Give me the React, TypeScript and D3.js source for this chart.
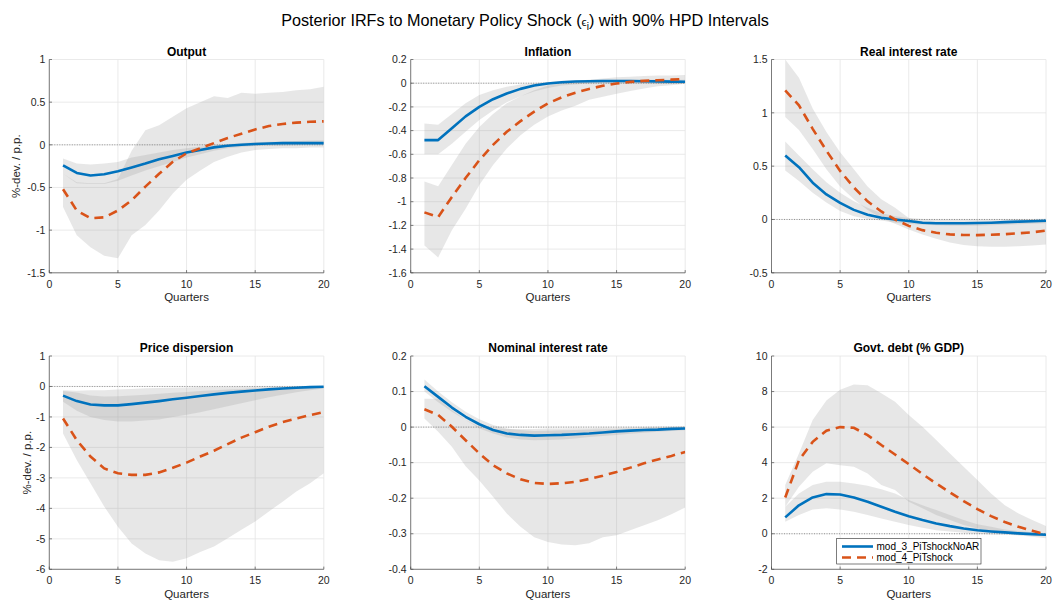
import React from "react";
import * as d3 from "d3";

// ---------- data ----------
const quarters = [1, 2, 3, 4, 5, 6, 7, 8, 9, 10, 11, 12, 13, 14, 15, 16, 17, 18, 19, 20];
const xTicks = [0, 5, 10, 15, 20];
const seriesNames = ["mod_3_PiTshockNoAR", "mod_4_PiTshock"];

// Output
const outM3 = [-0.24, -0.33, -0.36, -0.345, -0.31, -0.265, -0.22, -0.17, -0.13, -0.09, -0.06, -0.03, -0.01, 0.0, 0.01, 0.015, 0.02, 0.02, 0.02, 0.02];
const outM3Hi = [-0.16, -0.22, -0.23, -0.22, -0.2, -0.15, -0.12, -0.09, -0.06, -0.04, -0.02, -0.005, 0.01, 0.02, 0.03, 0.035, 0.04, 0.045, 0.05, 0.055];
const outM3Lo = [-0.34, -0.45, -0.46, -0.46, -0.42, -0.36, -0.3, -0.25, -0.2, -0.15, -0.11, -0.07, -0.04, -0.025, -0.015, -0.01, -0.01, -0.005, 0.0, 0.0];
const outM4 = [-0.52, -0.77, -0.86, -0.85, -0.77, -0.65, -0.49, -0.34, -0.2, -0.1, -0.04, 0.02, 0.08, 0.13, 0.18, 0.22, 0.245, 0.26, 0.27, 0.275];
const outM4Hi = [-0.34, -0.44, -0.45, -0.45, -0.4, -0.07, 0.17, 0.23, 0.33, 0.43, 0.5, 0.57, 0.55, 0.61, 0.6, 0.61, 0.62, 0.64, 0.65, 0.68];
const outM4Lo = [-0.73, -1.06, -1.2, -1.3, -1.33, -1.06, -0.94, -0.77, -0.57, -0.41, -0.3, -0.2, -0.14, -0.09, -0.06, -0.05, -0.04, -0.04, -0.03, -0.03];
const outTicks = [-1.5, -1, -0.5, 0, 0.5, 1];

// Inflation
const infM3 = [-0.48, -0.48, -0.38, -0.28, -0.2, -0.135, -0.087, -0.048, -0.02, -0.003, 0.008, 0.014, 0.017, 0.018, 0.018, 0.018, 0.016, 0.015, 0.013, 0.012];
const infM3Hi = [-0.34, -0.35, -0.26, -0.17, -0.1, -0.06, -0.03, -0.01, 0.0, 0.01, 0.02, 0.025, 0.028, 0.03, 0.03, 0.03, 0.03, 0.03, 0.03, 0.03];
const infM3Lo = [-0.6, -0.6, -0.51, -0.41, -0.31, -0.23, -0.16, -0.11, -0.07, -0.04, -0.02, -0.01, 0.0, 0.0, 0.0, 0.0, 0.0, -0.005, -0.005, -0.005];
const infM4 = [-1.09, -1.13, -0.96, -0.8, -0.65, -0.52, -0.41, -0.32, -0.24, -0.17, -0.12, -0.08, -0.048, -0.022, -0.003, 0.011, 0.02, 0.025, 0.03, 0.035];
const infM4Hi = [-0.83, -0.87, -0.69, -0.51, -0.37, -0.26, -0.17, -0.11, -0.06, -0.02, 0.0, 0.02, 0.03, 0.04, 0.05, 0.055, 0.06, 0.065, 0.065, 0.07];
const infM4Lo = [-1.37, -1.47, -1.24, -1.06, -0.86, -0.69, -0.55, -0.44, -0.35, -0.28, -0.23, -0.19, -0.14, -0.115, -0.09, -0.065, -0.045, -0.025, -0.017, -0.005];
const infTicks = [-1.6, -1.4, -1.2, -1, -0.8, -0.6, -0.4, -0.2, 0, 0.2];

// Real interest rate
const rrM3 = [0.6, 0.49, 0.345, 0.235, 0.155, 0.09, 0.045, 0.016, 0.0, -0.015, -0.03, -0.035, -0.035, -0.035, -0.033, -0.03, -0.025, -0.02, -0.017, -0.012];
const rrM3Hi = [0.73, 0.6, 0.47, 0.35, 0.25, 0.17, 0.11, 0.06, 0.03, 0.015, 0.005, 0.0, 0.0, 0.0, 0.0, 0.0, 0.002, 0.004, 0.005, 0.006];
const rrM3Lo = [0.46, 0.36, 0.25, 0.16, 0.08, 0.03, 0.005, -0.01, -0.03, -0.04, -0.05, -0.055, -0.06, -0.06, -0.06, -0.055, -0.05, -0.045, -0.04, -0.035];
const rrM4 = [1.21, 1.07, 0.85, 0.645, 0.455, 0.3, 0.17, 0.075, 0.0, -0.06, -0.1, -0.125, -0.14, -0.145, -0.147, -0.143, -0.138, -0.13, -0.12, -0.105];
const rrM4Hi = [1.5, 1.33, 1.04, 0.82, 0.63, 0.47, 0.31, 0.19, 0.11, 0.015, -0.02, -0.03, -0.035, -0.035, -0.03, -0.03, -0.025, -0.02, -0.02, -0.015];
const rrM4Lo = [0.96, 0.84, 0.66, 0.47, 0.31, 0.19, 0.09, 0.015, -0.04, -0.095, -0.14, -0.18, -0.215, -0.24, -0.25, -0.255, -0.255, -0.25, -0.245, -0.235];
const rrTicks = [-0.5, 0, 0.5, 1, 1.5];

// Price dispersion
const pdM3 = [-0.3, -0.48, -0.59, -0.62, -0.62, -0.58, -0.53, -0.48, -0.42, -0.37, -0.31, -0.26, -0.21, -0.17, -0.13, -0.095, -0.065, -0.04, -0.02, -0.01];
const pdM3Hi = [-0.15, -0.2, -0.3, -0.33, -0.32, -0.3, -0.27, -0.24, -0.21, -0.18, -0.15, -0.12, -0.1, -0.08, -0.06, -0.04, -0.03, -0.02, -0.01, 0.0];
const pdM3Lo = [-0.5, -0.8, -1.0, -1.1, -1.15, -1.15, -1.12, -1.08, -1.0, -0.93, -0.85, -0.75, -0.65, -0.55, -0.45, -0.35, -0.27, -0.19, -0.12, -0.07];
const pdM4 = [-1.05, -1.76, -2.3, -2.69, -2.85, -2.9, -2.9, -2.82, -2.67, -2.5, -2.3, -2.11, -1.89, -1.68, -1.5, -1.32, -1.17, -1.05, -0.94, -0.84];
const pdM4Hi = [-0.12, -0.14, -0.12, -0.12, -0.1, -0.08, -0.06, -0.05, -0.04, -0.03, -0.02, -0.02, -0.015, -0.01, -0.01, -0.005, 0.0, 0.0, 0.0, 0.0];
const pdM4Lo = [-1.54, -2.41, -3.18, -3.94, -4.6, -5.15, -5.48, -5.7, -5.75, -5.64, -5.43, -5.25, -4.98, -4.7, -4.43, -4.1, -3.78, -3.45, -3.18, -2.85];
const pdTicks = [-6, -5, -4, -3, -2, -1, 0, 1];

// Nominal interest rate
const nrM3 = [0.115, 0.085, 0.055, 0.029, 0.008, -0.008, -0.018, -0.022, -0.024, -0.023, -0.022, -0.02, -0.018, -0.015, -0.012, -0.01, -0.008, -0.007, -0.005, -0.004];
const nrM3Hi = [0.134, 0.1, 0.07, 0.043, 0.022, 0.006, -0.004, -0.008, -0.011, -0.01, -0.009, -0.008, -0.007, -0.006, -0.005, -0.004, -0.003, -0.002, -0.001, 0.0];
const nrM3Lo = [0.1, 0.07, 0.043, 0.02, -0.004, -0.018, -0.029, -0.035, -0.037, -0.036, -0.035, -0.032, -0.028, -0.025, -0.022, -0.019, -0.016, -0.013, -0.011, -0.009];
const nrM4 = [0.05, 0.034, 0.001, -0.037, -0.074, -0.107, -0.13, -0.147, -0.157, -0.16, -0.158, -0.154, -0.146, -0.137, -0.126, -0.114, -0.102, -0.091, -0.081, -0.07];
const nrM4Hi = [0.08, 0.08, 0.048, 0.02, 0.001, -0.004, -0.005, -0.005, -0.005, -0.004, -0.004, -0.003, -0.003, -0.002, -0.002, -0.001, 0.0, 0.001, 0.002, 0.003];
const nrM4Lo = [0.024, -0.013, -0.055, -0.11, -0.15, -0.196, -0.243, -0.28, -0.31, -0.323, -0.33, -0.332, -0.327, -0.31, -0.304, -0.29, -0.276, -0.262, -0.245, -0.226];
const nrTicks = [-0.4, -0.3, -0.2, -0.1, 0, 0.1, 0.2];

// Govt. debt
const gdM3 = [0.92, 1.6, 2.04, 2.23, 2.21, 2.04, 1.8, 1.52, 1.24, 0.99, 0.77, 0.58, 0.43, 0.3, 0.2, 0.13, 0.075, 0.02, -0.02, -0.06];
const gdM3Hi = [1.52, 2.27, 2.74, 2.92, 2.92, 2.83, 2.7, 2.5, 2.27, 1.9, 1.6, 1.33, 1.05, 0.77, 0.54, 0.4, 0.24, 0.15, 0.08, 0.02];
const gdM3Lo = [0.67, 1.05, 1.37, 1.43, 1.37, 1.24, 1.05, 0.86, 0.67, 0.49, 0.34, 0.2, 0.13, 0.06, 0.0, -0.04, -0.06, -0.08, -0.09, -0.11];
const gdM4 = [2.04, 4.14, 5.17, 5.8, 6.0, 5.96, 5.55, 4.99, 4.46, 3.92, 3.36, 2.83, 2.33, 1.84, 1.39, 0.99, 0.66, 0.39, 0.17, -0.04];
const gdM4Hi = [2.74, 4.52, 6.4, 7.5, 8.1, 8.4, 8.36, 7.9, 7.43, 6.68, 6.02, 5.27, 4.52, 3.77, 3.02, 2.27, 1.61, 1.14, 0.77, 0.43];
const gdM4Lo = [1.52, 2.64, 3.49, 3.96, 3.86, 3.77, 3.39, 2.74, 2.46, 1.8, 1.43, 1.05, 0.77, 0.49, 0.3, 0.15, 0.02, -0.08, -0.17, -0.26];
const gdTicks = [-2, 0, 2, 4, 6, 8, 10];

// ---------- layout / style ----------
const W = 1054;
const H = 601;
const colX = [49.3, 410.7, 771.5];
const rowY = [59.5, 356];
const PW = 274.5;
const PH = 213.3;
const BLUE = "#0072BD";
const ORANGE = "#D95319";
const FONT = "'Liberation Sans', Arial, Helvetica, sans-serif";
const TXT = "#262626";

type PanelCfg = {
  title: string;
  m3: number[]; m3Lo: number[]; m3Hi: number[];
  m4: number[]; m4Lo: number[]; m4Hi: number[];
  ticks: number[];
  yLabelX?: number;
  legend?: boolean;
};

const panels: PanelCfg[] = [
  { title: "Output", m3: outM3, m3Lo: outM3Lo, m3Hi: outM3Hi, m4: outM4, m4Lo: outM4Lo, m4Hi: outM4Hi, ticks: outTicks, yLabelX: 16 },
  { title: "Inflation", m3: infM3, m3Lo: infM3Lo, m3Hi: infM3Hi, m4: infM4, m4Lo: infM4Lo, m4Hi: infM4Hi, ticks: infTicks },
  { title: "Real interest rate", m3: rrM3, m3Lo: rrM3Lo, m3Hi: rrM3Hi, m4: rrM4, m4Lo: rrM4Lo, m4Hi: rrM4Hi, ticks: rrTicks },
  { title: "Price dispersion", m3: pdM3, m3Lo: pdM3Lo, m3Hi: pdM3Hi, m4: pdM4, m4Lo: pdM4Lo, m4Hi: pdM4Hi, ticks: pdTicks, yLabelX: 27 },
  { title: "Nominal interest rate", m3: nrM3, m3Lo: nrM3Lo, m3Hi: nrM3Hi, m4: nrM4, m4Lo: nrM4Lo, m4Hi: nrM4Hi, ticks: nrTicks },
  { title: "Govt. debt (% GDP)", m3: gdM3, m3Lo: gdM3Lo, m3Hi: gdM3Hi, m4: gdM4, m4Lo: gdM4Lo, m4Hi: gdM4Hi, ticks: gdTicks, legend: true },
];

const fmt = (v: number) => (Math.abs(v) < 1e-9 ? "0" : String(+v.toFixed(2)));

function Panel({ p, x0, y0 }: { p: PanelCfg; x0: number; y0: number }) {
  const x = d3.scaleLinear().domain([0, 20]).range([x0, x0 + PW]);
  const yDomain = [p.ticks[0], p.ticks[p.ticks.length - 1]];
  const y = d3.scaleLinear().domain(yDomain).range([y0 + PH, y0]);

  const band = (lo: number[], hi: number[]) =>
    d3.area<number>()
      .x((_, i) => x(quarters[i]))
      .y0((_, i) => y(lo[i]))
      .y1((_, i) => y(hi[i]))(quarters) || "";
  const line = (vals: number[]) =>
    d3.line<number>()
      .x((_, i) => x(quarters[i]))
      .y((d) => y(d))
      .curve(d3.curveLinear)(vals) || "";

  const clipId = "clip-" + p.title.replace(/[^a-z]/gi, "");
  return (
    <g>
      <defs>
        <clipPath id={clipId}>
          <rect x={x0} y={y0} width={PW} height={PH} />
        </clipPath>
      </defs>
      {/* grid */}
      {xTicks.map((t) => (
        <line key={"gx" + t} x1={x(t)} x2={x(t)} y1={y0} y2={y0 + PH} stroke="#e4e4e4" strokeWidth={0.8} />
      ))}
      {p.ticks.map((t) => (
        <line key={"gy" + t} x1={x0} x2={x0 + PW} y1={y(t)} y2={y(t)} stroke="#e4e4e4" strokeWidth={0.8} />
      ))}
      <g clipPath={`url(#${clipId})`}>
        <path d={band(p.m3Lo, p.m3Hi)} fill="#9a9a9a" fillOpacity={0.24} stroke="none" />
        <path d={band(p.m4Lo, p.m4Hi)} fill="#9a9a9a" fillOpacity={0.24} stroke="none" />
        <line x1={x0} x2={x0 + PW} y1={y(0)} y2={y(0)} stroke="#555" strokeWidth={0.6} strokeDasharray="1,1.5" />
        <path d={line(p.m3)} fill="none" stroke={BLUE} strokeWidth={2.6} strokeLinejoin="round" />
        <path d={line(p.m4)} fill="none" stroke={ORANGE} strokeWidth={2.6} strokeDasharray="9,6" />
      </g>
      {/* axes */}
      <line x1={x0} x2={x0} y1={y0} y2={y0 + PH} stroke="#4a4a4a" strokeWidth={0.7} />
      <line x1={x0} x2={x0 + PW} y1={y0 + PH} y2={y0 + PH} stroke="#4a4a4a" strokeWidth={0.7} />
      {xTicks.map((t) => (
        <g key={"tx" + t}>
          <line x1={x(t)} x2={x(t)} y1={y0 + PH} y2={y0 + PH - 2.7} stroke="#4a4a4a" strokeWidth={0.7} />
          <text x={x(t)} y={y0 + PH + 15} textAnchor="middle" fontSize={10.5} fill={TXT} fontFamily={FONT}>
            {fmt(t)}
          </text>
        </g>
      ))}
      {p.ticks.map((t) => (
        <g key={"ty" + t}>
          <line x1={x0} x2={x0 + 2.7} y1={y(t)} y2={y(t)} stroke="#4a4a4a" strokeWidth={0.7} />
          <text x={x0 - 4} y={y(t) + 3.7} textAnchor="end" fontSize={10.5} fill={TXT} fontFamily={FONT}>
            {fmt(t)}
          </text>
        </g>
      ))}
      <text x={x0 + PW / 2} y={y0 - 4} textAnchor="middle" fontSize={12} fontWeight="bold" fill="#000" fontFamily={FONT}>
        {p.title}
      </text>
      <text x={x0 + PW / 2} y={y0 + PH + 28.5} textAnchor="middle" fontSize={11.5} fill={TXT} fontFamily={FONT}>
        Quarters
      </text>
      {p.yLabelX !== undefined && (
        <text
          transform={`translate(${p.yLabelX},${y0 + PH / 2}) rotate(-90)`}
          textAnchor="middle"
          dy="0.35em"
          fontSize={11.5}
          fill={TXT}
          fontFamily={FONT}
        >
          %-dev. / p.p.
        </text>
      )}
      {p.legend && (
        <g>
          <rect x={836.7} y={538.3} width={144.3} height={25.7} fill="#fff" stroke="#262626" strokeWidth={0.6} />
          <line x1={842} x2={873} y1={546.5} y2={546.5} stroke={BLUE} strokeWidth={2.6} />
          <line x1={842} x2={873} y1={557.5} y2={557.5} stroke={ORANGE} strokeWidth={2.6} strokeDasharray="9,6" />
          <text x={876.5} y={550} fontSize={10} fill="#000" fontFamily={FONT}>{seriesNames[0]}</text>
          <text x={876.5} y={561} fontSize={10} fill="#000" fontFamily={FONT}>{seriesNames[1]}</text>
        </g>
      )}
    </g>
  );
}

export default function App() {
  return (
    <svg width={W} height={H} style={{ display: "block", position: "absolute", left: 0, top: 0, background: "#fff" }}>
      <rect x={0} y={0} width={W} height={H} fill="#fff" />
      <text x={525} y={25.5} textAnchor="middle" fontSize={16.2} fill="#000" fontFamily={FONT}>
        <tspan>Posterior IRFs to Monetary Policy Shock (</tspan>
        <tspan fontSize={11.5}>ϵ</tspan>
        <tspan fontSize={10} dy={4.5}>i</tspan>
        <tspan dy={-4.5}>) with 90% HPD Intervals</tspan>
      </text>
      {panels.map((p, i) => (
        <Panel key={p.title} p={p} x0={colX[i % 3]} y0={rowY[Math.floor(i / 3)]} />
      ))}
    </svg>
  );
}
